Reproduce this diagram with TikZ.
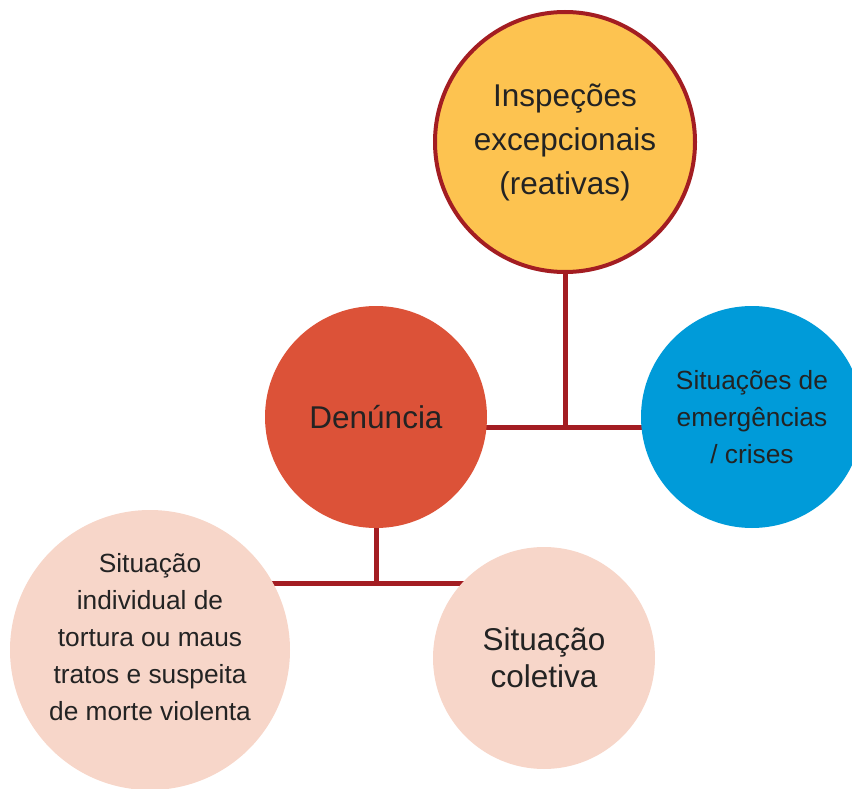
\documentclass[tikz,border=0pt]{standalone}
\usepackage{fontspec}
\setmainfont{Liberation Sans}
\usetikzlibrary{backgrounds}
\definecolor{linered}{HTML}{A31D22}
\definecolor{amarelo}{HTML}{FDC350}
\definecolor{vermelho}{HTML}{DC5238}
\definecolor{azul}{HTML}{009BD9}
\definecolor{rosa}{HTML}{F7D6C9}
\definecolor{texto}{HTML}{232323}
\tikzset{
  bola/.style={circle, inner sep=0pt, align=center, text=texto},
  ligacao/.style={draw=linered, line width=5pt},
}
\begin{document}
\begin{tikzpicture}[x=1pt,y=-1pt]
\useasboundingbox (0,0) rectangle (852,789);
\node[bola, fill=amarelo, draw=linered, line width=4pt, minimum size=260pt, font=\fontsize{31.5}{44}\selectfont] (insp) at (565,142){Inspeções\\excepcionais\\(reativas)};
\node[bola, fill=vermelho, minimum size=222pt, font=\fontsize{31.5}{44}\selectfont] (denuncia) at (376,417){Denúncia};
\node[bola, fill=azul, minimum size=222pt, font=\fontsize{26.3}{37}\selectfont] (crises) at (752,417){Situações de\\emergências\\/ crises};
\node[bola, fill=rosa, minimum size=280pt] (individual) at (150,650){};
\node[align=center, text=texto, font=\fontsize{26.3}{37}\selectfont] (indtxt) at (150,637){Situação\\individual de\\tortura ou maus\\tratos e suspeita\\de morte violenta};
\node[bola, fill=rosa, minimum size=222pt, font=\fontsize{31.5}{37}\selectfont] (coletiva) at (544,658){Situação\\coletiva};
\coordinate (j1) at (565,427);
\coordinate (j2) at (376,583);
\begin{pgfonlayer}{background}
\draw[ligacao](insp) -- (j1);
\draw[ligacao](denuncia |- j1) -- (crises |- j1);
\draw[ligacao](denuncia) -- (j2);
\draw[ligacao](individual |- j2) -- (coletiva |- j2);
\end{pgfonlayer}
\end{tikzpicture}
\end{document}
